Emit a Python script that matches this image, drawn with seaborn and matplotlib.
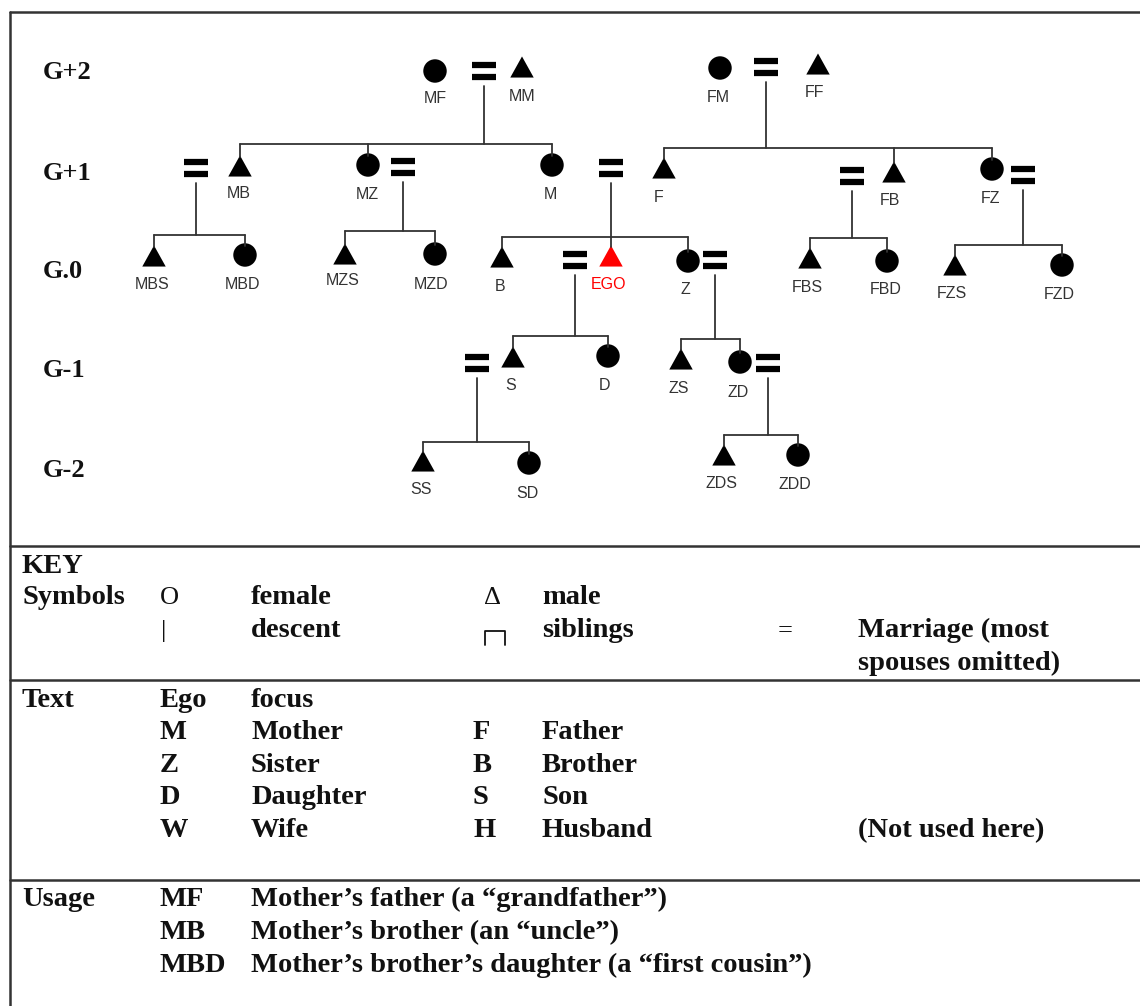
import numpy as np
import pandas as pd
import matplotlib
matplotlib.use('Agg')
import matplotlib.pyplot as plt
from matplotlib.path import Path
import seaborn as sns

# kin terms, sex and layout (pixel coords of the original diagram)
names = ['MF', 'MM', 'FM', 'FF',
         'MB', 'MZ', 'M', 'F', 'FB', 'FZ',
         'MBS', 'MBD', 'MZS', 'MZD', 'B', 'EGO', 'Z', 'FBS', 'FBD', 'FZS', 'FZD',
         'S', 'D', 'ZS', 'ZD',
         'SS', 'SD', 'ZDS', 'ZDD']
sex = ['F', 'M', 'F', 'M',
       'M', 'F', 'F', 'M', 'M', 'F',
       'M', 'F', 'M', 'F', 'M', 'M', 'F', 'M', 'F', 'M', 'F',
       'M', 'F', 'M', 'F',
       'M', 'F', 'M', 'F']
node_x = [435, 522, 720, 818,
          240, 368, 552, 664, 894, 992,
          154, 245, 345, 435, 502, 611, 688, 810, 887, 955, 1062,
          513, 608, 681, 740,
          423, 529, 724, 798]
node_y = [71, 67, 68, 64,
          166, 165, 165, 168, 172, 169,
          256, 255, 254, 254, 257, 256, 261, 258, 261, 265, 265,
          357, 356, 359, 362,
          461, 463, 455, 455]
label_x = [435, 522, 718, 815,
           239, 367, 550, 659, 890, 991,
           152, 243, 343, 431, 500, 608, 685, 807, 886, 952, 1059,
           511, 605, 679, 738,
           421, 527, 722, 795]
label_y = [97, 95, 96, 91,
           192, 193, 193, 196, 199, 197,
           283, 283, 279, 283, 285, 283, 288, 286, 288, 292, 293,
           384, 384, 387, 391,
           488, 492, 482, 483]

# marriages ("=") and the children descending from each
marriage_x = [484, 766, 196, 403, 611, 852, 1023, 575, 715, 477, 768]
marriage_y = [71, 67, 168, 167, 168, 176, 175, 260, 260, 363, 363]
children = [['MB', 'MZ', 'M'], ['F', 'FB', 'FZ'], ['MBS', 'MBD'], ['MZS', 'MZD'],
            ['B', 'EGO', 'Z'], ['FBS', 'FBD'], ['FZS', 'FZD'], ['S', 'D'],
            ['ZS', 'ZD'], ['SS', 'SD'], ['ZDS', 'ZDD']]
sibling_bar_y = [144, 148, 235, 231, 237, 238, 245, 336, 339, 442, 435]

gen_labels = ['G+2', 'G+1', 'G.0', 'G-1', 'G-2']
gen_baseline = [79, 180, 278, 377, 477]

# key table rows: (x, baseline, text)
key_rows = [
    (22, 573, 'KEY'),
    (22, 604, 'Symbols'), (251, 604, 'female'), (542, 604, 'male'),
    (251, 637, 'descent'), (542, 637, 'siblings'), (858, 637, 'Marriage (most'),
    (858, 670, 'spouses omitted)'),
    (22, 707, 'Text'), (160, 707, 'Ego'), (251, 707, 'focus'),
    (160, 739, 'M'), (251, 739, 'Mother'), (473, 739, 'F'), (542, 739, 'Father'),
    (160, 772, 'Z'), (251, 772, 'Sister'), (473, 772, 'B'), (542, 772, 'Brother'),
    (160, 804, 'D'), (251, 804, 'Daughter'), (473, 804, 'S'), (542, 804, 'Son'),
    (160, 837, 'W'), (251, 837, 'Wife'), (473, 837, 'H'), (542, 837, 'Husband'),
    (858, 837, '(Not used here)'),
    (22, 906, 'Usage'), (160, 906, 'MF'), (251, 906, 'Mother’s father (a “grandfather”)'),
    (160, 939, 'MB'), (251, 939, 'Mother’s brother (an “uncle”)'),
    (160, 972, 'MBD'), (251, 972, 'Mother’s brother’s daughter (a “first cousin”)'),
]
key_symbols = [(160, 604, 'O'), (484, 604, 'Δ'), (161, 637, '|'), (778, 637, '=')]
separator_y = [546, 680, 880]

df = pd.DataFrame({'name': names, 'sex': sex, 'x': node_x, 'y': node_y,
                   'lx': label_x, 'ly': label_y})
df['ego'] = df['name'] == 'EGO'
pos = df.set_index('name')

sns.set_style('white')
fig = plt.figure(figsize=(11.4, 10.06), dpi=100)
ax = fig.add_axes([0, 0, 1, 1])
ax.set_xlim(0, 1140)
ax.set_ylim(1006, 0)
ax.axis('off')

line_c = '#333333'
# frame and table separators
ax.plot([10, 1140], [12, 12], color=line_c, lw=1.8)
ax.plot([10, 10], [12, 1006], color=line_c, lw=1.8)
for sy in separator_y:
    ax.plot([10, 1140], [sy, sy], color=line_c, lw=1.8)

# descent lines and sibling bars
for mx, my, kids, by in zip(marriage_x, marriage_y, children, sibling_bar_y):
    kx = [pos.loc[k, 'x'] for k in kids]
    ax.plot([mx, mx], [my + 15, by], color=line_c, lw=1.3)
    ax.plot([min(kx + [mx]), max(kx + [mx])], [by, by], color=line_c, lw=1.3)
    for k in kids:
        ax.plot([pos.loc[k, 'x']] * 2, [by, pos.loc[k, 'y'] - 9], color=line_c, lw=1.3)
    # the "=" marriage sign
    for dy in (-6, 6):
        ax.plot([mx - 12, mx + 12], [my + dy, my + dy], color='black', lw=4.5,
                solid_capstyle='butt')

tri = Path([(-1, -0.9), (1, -0.9), (0, 0.9), (-1, -0.9)],
           [Path.MOVETO, Path.LINETO, Path.LINETO, Path.CLOSEPOLY])
sns.scatterplot(data=df, x='x', y='y', style='sex', markers={'F': 'o', 'M': tri},
                hue='ego', palette={False: 'black', True: '#ff0000'},
                s=285, linewidth=0, legend=False, ax=ax)
ax.set_xlabel('')
ax.set_ylabel('')

for _, r in df.iterrows():
    ax.text(r['lx'], r['ly'], r['name'], ha='center', va='center_baseline',
            fontsize=11.5, family='Liberation Sans',
            color='#ff0000' if r['ego'] else '#333333')

for g, b in zip(gen_labels, gen_baseline):
    ax.text(43, b, g, ha='left', va='baseline', fontsize=19, fontweight='bold',
            family='Liberation Serif', color='#111111')

for x, b, t in key_rows:
    ax.text(x, b, t, ha='left', va='baseline', fontsize=20.5, fontweight='bold',
            family='Liberation Serif', color='#111111')
for x, b, t in key_symbols:
    ax.text(x, b, t, ha='left', va='baseline', fontsize=19,
            family='Liberation Serif', color='#111111')
# siblings symbol
ax.plot([485, 485, 505, 505], [645, 631, 631, 645], color='#111111', lw=1.3)

fig.savefig('out.png', dpi=100)
